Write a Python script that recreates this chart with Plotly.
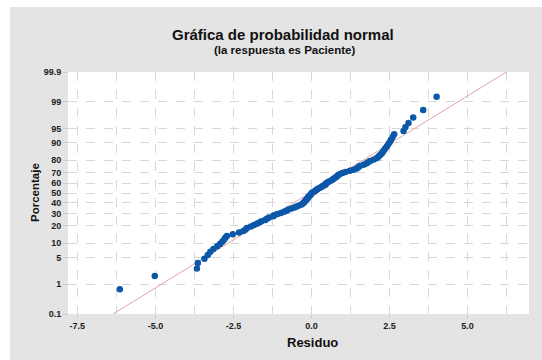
import plotly.graph_objects as go
from statistics import NormalDist, mean, stdev

# Residuals (sorted) shown on the normal probability plot
residuos = [
    -6.14, -5.02, -3.67, -3.64, -3.43, -3.32, -3.24, -3.14, -3.02, -2.93,
    -2.86, -2.80, -2.76, -2.71, -2.52, -2.32, -2.18, -2.11, -2.07, -1.94,
    -1.84, -1.75, -1.67, -1.60, -1.48, -1.43, -1.36, -1.22, -1.20, -1.09,
    -0.98, -0.88, -0.80, -0.74, -0.64, -0.54, -0.48, -0.40, -0.32, -0.28,
    -0.24, -0.21, -0.19, -0.16, -0.13, -0.11, -0.09, -0.05, -0.02, 0.00,
    0.03, 0.10, 0.13, 0.18, 0.22, 0.29, 0.34, 0.39, 0.45, 0.46,
    0.51, 0.56, 0.63, 0.68, 0.72, 0.77, 0.81, 0.85, 0.90, 0.99,
    1.09, 1.23, 1.35, 1.45, 1.50, 1.55, 1.67, 1.76, 1.81, 1.88,
    2.00, 2.10, 2.15, 2.20, 2.25, 2.29, 2.33, 2.37, 2.42, 2.46,
    2.51, 2.55, 2.60, 2.65, 2.95, 3.01, 3.11, 3.26, 3.58, 4.01,
]

pct_ticks = [0.1, 1, 5, 10, 20, 30, 40, 50, 60, 70, 80, 90, 95, 99, 99.9]
pct_labels = ["0.1", "1", "5", "10", "20", "30", "40", "50", "60", "70",
              "80", "90", "95", "99", "99.9"]
x_ticks = [-7.5, -5.0, -2.5, 0.0, 2.5, 5.0]
x_labels = ["-7.5", "-5.0", "-2.5", "0.0", "2.5", "5.0"]

titulo = "Gráfica de probabilidad normal"
subtitulo = "(la respuesta es Paciente)"
eje_x = "Residuo"
eje_y = "Porcentaje"

# Normal scores with median ranks (i - 0.3) / (n + 0.4)
nd = NormalDist()
r = sorted(residuos)
n = len(r)
z = [nd.inv_cdf((i + 1 - 0.3) / (n + 0.4)) for i in range(n)]

# Fitted normal line from the sample mean and standard deviation
mu, sd = mean(r), stdev(r)
zlo, zhi = nd.inv_cdf(0.001), nd.inv_cdf(0.999)
fit_x = [mu + zlo * sd, mu + zhi * sd]
fit_y = [zlo, zhi]

W, H = 542, 360
ML, MR, MT, MB = 68, 13, 72, 46
PW, PH = W - ML - MR, H - MT - MB

def px(x):
    return (x - ML) / PW

def py(y):
    return (H - MB - y) / PH

GRAY = "#e4e4e4"
GRID = "#d8d8d8"
FONT = "Liberation Sans, Arial, sans-serif"

def bold(s):
    return "<b>" + s + "</b>"

fig = go.Figure()
fig.add_trace(go.Scatter(
    x=fit_x, y=fit_y, mode="lines",
    line=dict(color="#e2a4a4", width=1),
    hoverinfo="skip", showlegend=False,
))
fig.add_trace(go.Scatter(
    x=r, y=z, mode="markers",
    marker=dict(color="#0b57a8", size=6.5, line=dict(width=0)),
    showlegend=False,
))

fig.update_xaxes(
    range=[-7.8, 6.97],
    tickvals=x_ticks, ticktext=[bold(t) for t in x_labels],
    showgrid=True, gridcolor=GRID, griddash="dash", gridwidth=1,
    minor=dict(dtick=1.25, tick0=0, showgrid=True, gridcolor=GRID,
               griddash="dash", gridwidth=1),
    ticks="outside", ticklen=3, tickcolor="#c8c8c8",
    zeroline=False, showline=False,
    tickfont=dict(family=FONT, size=9, color="#222"),
)
fig.update_yaxes(
    range=[zlo, zhi],
    tickvals=[nd.inv_cdf(p / 100) for p in pct_ticks],
    ticktext=[bold(t) for t in pct_labels],
    showgrid=True, gridcolor=GRID, griddash="dash", gridwidth=1,
    ticks="outside", ticklen=4, tickcolor="#c8c8c8",
    zeroline=False, showline=False,
    tickfont=dict(family=FONT, size=9, color="#222"),
)

fig.update_layout(
    width=W, height=H,
    margin=dict(l=ML, r=MR, t=MT, b=MB),
    paper_bgcolor=GRAY, plot_bgcolor="white",
    font=dict(family=FONT),
    shapes=[
        # white border strips along the top and left of the figure
        dict(type="rect", xref="paper", yref="paper",
             x0=px(0), x1=px(W), y0=py(7), y1=py(0),
             fillcolor="white", line=dict(width=0)),
        dict(type="rect", xref="paper", yref="paper",
             x0=px(0), x1=px(10), y0=py(H), y1=py(0),
             fillcolor="white", line=dict(width=0)),
    ],
    annotations=[
        dict(text=bold(titulo), xref="paper", yref="paper", x=px(283), y=py(34),
             showarrow=False, xanchor="center", yanchor="middle",
             font=dict(family=FONT, size=15, color="#111")),
        dict(text=bold(subtitulo), xref="paper", yref="paper", x=px(284), y=py(50),
             showarrow=False, xanchor="center", yanchor="middle",
             font=dict(family=FONT, size=11.5, color="#111")),
        dict(text=bold(eje_x), xref="paper", yref="paper", x=px(312), y=py(342),
             showarrow=False, xanchor="center", yanchor="middle",
             font=dict(family=FONT, size=13, color="#111")),
        dict(text=bold(eje_y), xref="paper", yref="paper", x=px(35), y=py(193),
             showarrow=False, xanchor="center", yanchor="middle", textangle=-90,
             font=dict(family=FONT, size=11.5, color="#111")),
    ],
)

fig.write_html("out.html")
